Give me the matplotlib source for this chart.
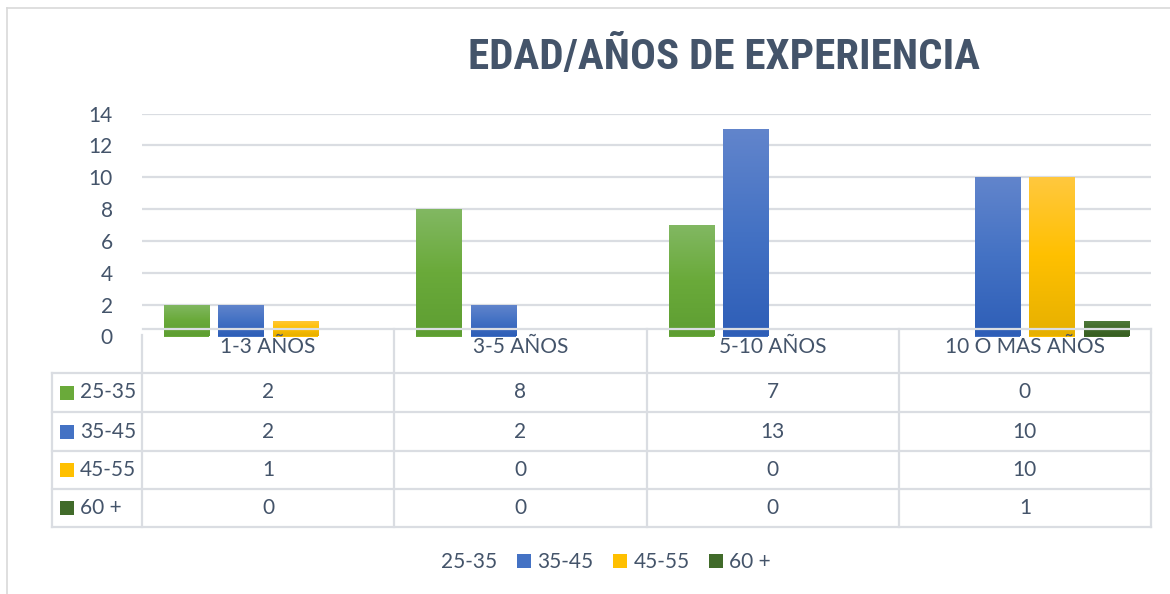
import numpy as np
import matplotlib
matplotlib.use("Agg")
import matplotlib.pyplot as plt
from matplotlib.lines import Line2D
from matplotlib.patches import Patch, Rectangle
from matplotlib.colors import LinearSegmentedColormap
from matplotlib.transforms import blended_transform_factory

# ---- data ----
title = "EDAD/AÑOS DE EXPERIENCIA"
categories = ["1-3 AÑOS", "3-5 AÑOS", "5-10 AÑOS", "10 O MAS AÑOS"]
series_names = ["25-35", "35-45", "45-55", "60 +"]
s_25_35 = [2, 8, 7, 0]
s_35_45 = [2, 2, 13, 10]
s_45_55 = [1, 0, 0, 10]
s_60 = [0, 0, 0, 1]
series_values = [s_25_35, s_35_45, s_45_55, s_60]
y_ticks = [0, 2, 4, 6, 8, 10, 12, 14]

# ---- styles ----
mid_colors = ["#6AAA3A", "#4472C4", "#FFC000", "#416B2A"]
grad_colors = [
    ("#5E9E32", "#6AAA3A", "#82B863"),
    ("#2E5EB7", "#4472C4", "#6285CC"),
    ("#E6B000", "#FFC000", "#FFC83F"),
    ("#375E21", "#416B2A", "#4F7A3C"),
]
TXT = "#44546A"
GRID = "#DADDE2"
FONT = ["Lato", "DejaVu Sans"]
FS = 15

W, H = 1170, 594
def fx(p):
    return p / W
def fy(p):
    return 1 - p / H

fig = plt.figure(figsize=(W / 100, H / 100), dpi=100)
fig.patch.set_facecolor("white")

ax = fig.add_axes([fx(142), fy(336.5), fx(1151) - fx(142), fy(113.5) - fy(336.5)])
x = np.arange(len(categories))
n = len(series_names)
slot = 0.215
bw = 0.179
grad = np.linspace(0, 1, 256).reshape(-1, 1)

for i, (vals, name) in enumerate(zip(series_values, series_names)):
    offs = (i - (n - 1) / 2) * slot
    bars = ax.bar(x + offs, vals, width=bw, color=mid_colors[i], linewidth=0, zorder=2, label=name)
    cmap = LinearSegmentedColormap.from_list("g%d" % i, list(grad_colors[i]))
    for b in bars:
        h = b.get_height()
        if h <= 0:
            continue
        x0, y0, w = b.get_x(), b.get_y(), b.get_width()
        im = ax.imshow(grad, extent=[x0, x0 + w, y0, y0 + h], origin="lower", cmap=cmap,
                       aspect="auto", zorder=2.1, interpolation="bilinear")
        im.set_clip_path(b)

ax.set_xlim(-0.5, len(categories) - 0.5)
ax.set_ylim(0, 14)
ax.set_yticks(y_ticks)
ax.set_yticklabels([str(v) for v in y_ticks], fontsize=FS, color=TXT, family=FONT)
ax.set_xticks([])
ax.tick_params(axis="y", length=0, pad=21)
for s in ax.spines.values():
    s.set_visible(False)
ax.set_axisbelow(True)
ax.yaxis.grid(True, color=GRID, linewidth=1.6)
ax.yaxis.get_gridlines()[0].set_visible(False)
ax.patch.set_alpha(0)

# ---- title ----
fig.text(fx(724), fy(57), title, ha="center", va="center", fontsize=31, fontweight="bold",
         color=TXT, family=["Roboto Condensed", "Roboto", "DejaVu Sans"])

# ---- outer border ----
fig.add_artist(Line2D([fx(7), fx(1170)], [fy(8), fy(8)], color="#D9D9D9", lw=1.2, transform=fig.transFigure))
fig.add_artist(Line2D([fx(7), fx(7)], [fy(8), fy(594)], color="#D9D9D9", lw=1.2, transform=fig.transFigure))

# ---- data table ----
bt = blended_transform_factory(ax.transData, fig.transFigure)
LW = 1.6
fig.add_artist(Line2D([fx(143), fx(1151)], [fy(329), fy(329)], color=GRID, lw=LW, transform=fig.transFigure, zorder=5))
row_lines = [373, 412, 451, 489, 527]
for r in row_lines:
    fig.add_artist(Line2D([fx(52), fx(1151)], [fy(r), fy(r)], color=GRID, lw=LW, transform=fig.transFigure, zorder=5))
fig.add_artist(Line2D([fx(52), fx(52)], [fy(373), fy(527)], color=GRID, lw=LW, transform=fig.transFigure, zorder=5))
for j in range(len(categories) + 1):
    top = 335 if j == 0 else 329
    fig.add_artist(Line2D([j - 0.5, j - 0.5], [fy(top), fy(527)], color=GRID, lw=LW, transform=bt, zorder=5))

for j, c in enumerate(categories):
    fig.text(j, fy(347), c, transform=bt, ha="center", va="center", fontsize=FS, color=TXT, family=FONT)

row_centers = [(row_lines[k] + row_lines[k + 1]) / 2 for k in range(len(series_names))]
for i, (vals, name) in enumerate(zip(series_values, series_names)):
    yc = row_centers[i]
    fig.add_artist(Rectangle((fx(60), fy(yc + 7)), fx(14), 14 / H, transform=fig.transFigure,
                             facecolor=mid_colors[i], edgecolor="none"))
    fig.text(fx(80), fy(yc), name, ha="left", va="center", fontsize=FS, color=TXT, family=FONT)
    for j, v in enumerate(vals):
        fig.text(j, fy(yc), str(v), transform=bt, ha="center", va="center", fontsize=FS, color=TXT, family=FONT)

# ---- legend ----
handles = [Patch(facecolor="none", edgecolor="none")] + [Patch(facecolor=c, edgecolor="none") for c in mid_colors[1:]]
leg = fig.legend(handles, series_names, loc="center", bbox_to_anchor=(fx(596), fy(562)), ncol=4,
                 frameon=False, handlelength=0.67, handleheight=0.67, handletextpad=0.3,
                 columnspacing=0.95, prop={"family": FONT, "size": FS})
for t in leg.get_texts():
    t.set_color(TXT)

fig.savefig("out.png", dpi=100)
